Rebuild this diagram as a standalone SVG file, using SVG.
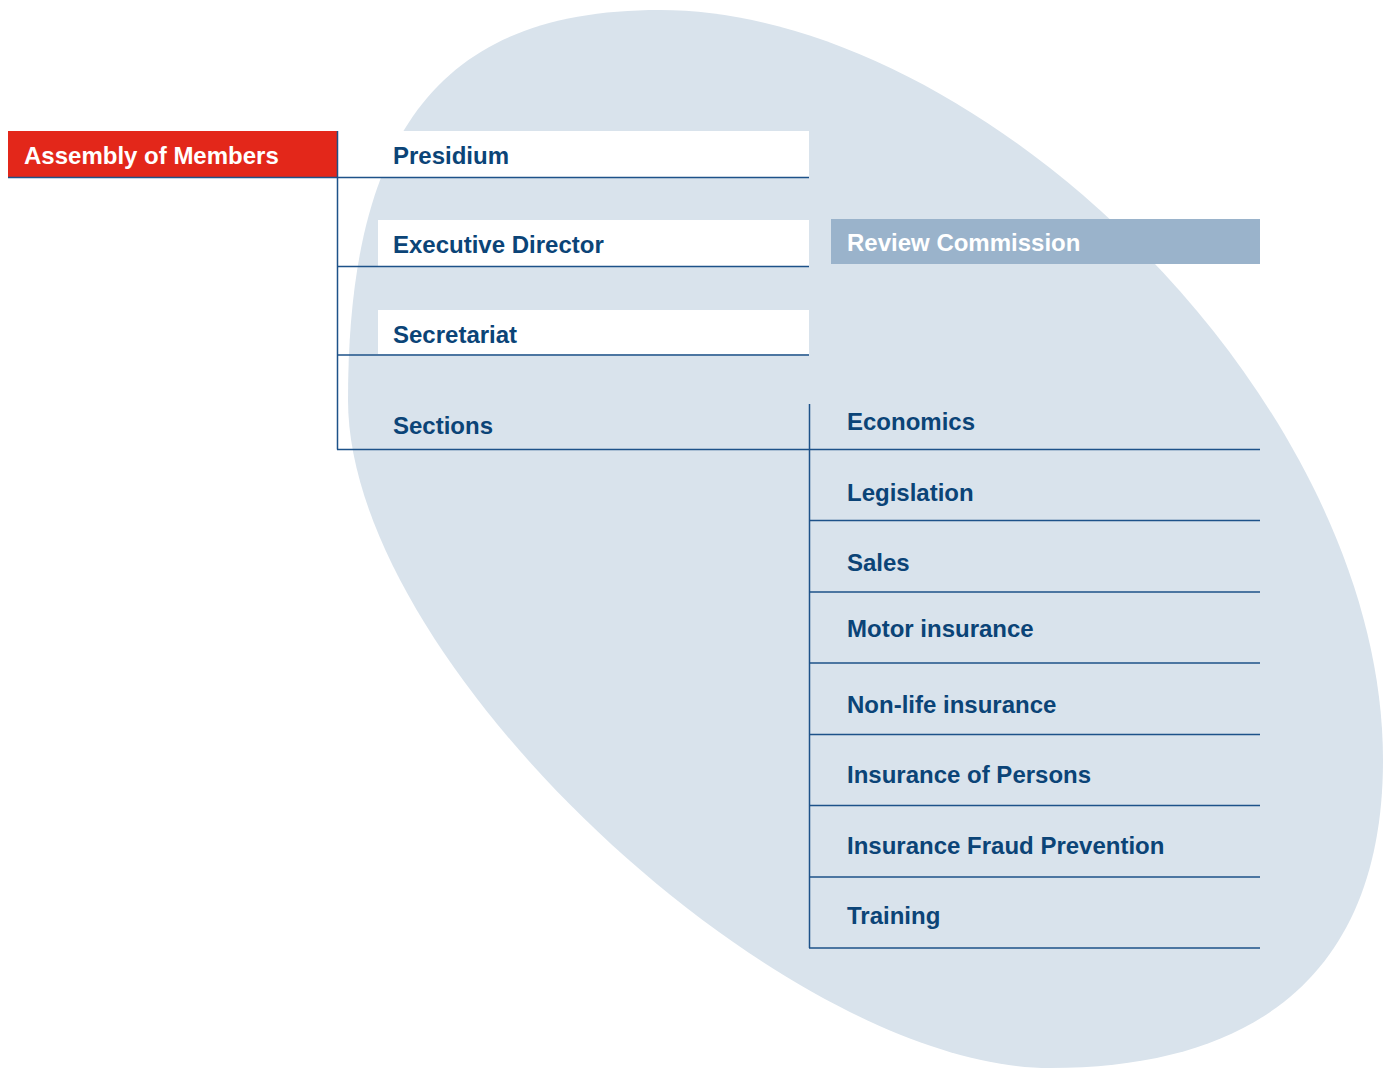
<svg xmlns="http://www.w3.org/2000/svg" width="1385" height="1068" viewBox="0 0 1385 1068">
<style>
.t{font-family:"Liberation Sans",Arial,sans-serif;font-weight:bold;font-size:24px;fill:#0b4477}
.w{fill:#ffffff}
.ln{stroke:#1d5289;stroke-width:1.5;fill:none}
.box{fill:#ffffff}
</style>
<rect width="1385" height="1068" fill="#ffffff"/>
<path id="blob" d="M660,10 C980,10 1383,400 1383,760 C1383,960 1270,1068 1050,1068 C785,1068 348,665 348,400 C348,120 450,10 660,10 Z" fill="#d9e3ec"/>
<g id="assembly">
<rect x="8" y="131" width="329" height="46" fill="#e3271a"/>
<text class="t w" x="24" y="164">Assembly of Members</text>
</g>
<g id="presidium">
<rect class="box" x="337" y="131" width="472" height="46"/>
<text class="t" x="393" y="164">Presidium</text>
</g>
<g id="executive-director">
<rect class="box" x="378" y="220" width="431" height="46"/>
<text class="t" x="393" y="253">Executive Director</text>
</g>
<g id="secretariat">
<rect class="box" x="378" y="310" width="431" height="44"/>
<text class="t" x="393" y="343">Secretariat</text>
</g>
<g id="sections">
<text class="t" x="393" y="434">Sections</text>
</g>
<g id="review-commission">
<rect x="831" y="219" width="429" height="45" fill="#9ab3cb"/>
<text class="t w" x="847" y="251">Review Commission</text>
</g>
<g id="economics"><text class="t" x="847" y="430">Economics</text></g>
<g id="legislation"><text class="t" x="847" y="501">Legislation</text></g>
<g id="sales"><text class="t" x="847" y="571">Sales</text></g>
<g id="motor-insurance"><text class="t" x="847" y="637">Motor insurance</text></g>
<g id="non-life-insurance"><text class="t" x="847" y="713">Non-life insurance</text></g>
<g id="insurance-of-persons"><text class="t" x="847" y="783">Insurance of Persons</text></g>
<g id="insurance-fraud-prevention"><text class="t" x="847" y="854">Insurance Fraud Prevention</text></g>
<g id="training"><text class="t" x="847" y="924">Training</text></g>
<g id="connectors">
<line class="ln" x1="8" y1="177.5" x2="809" y2="177.5"/>
<line class="ln" x1="337.5" y1="131" x2="337.5" y2="449.5"/>
<line class="ln" x1="337" y1="266.5" x2="809" y2="266.5"/>
<line class="ln" x1="337" y1="355" x2="809" y2="355"/>
<line class="ln" x1="337" y1="449.5" x2="1260" y2="449.5"/>
<line class="ln" x1="809.5" y1="404" x2="809.5" y2="948"/>
<line class="ln" x1="809" y1="520.5" x2="1260" y2="520.5"/>
<line class="ln" x1="809" y1="592" x2="1260" y2="592"/>
<line class="ln" x1="809" y1="663" x2="1260" y2="663"/>
<line class="ln" x1="809" y1="734.5" x2="1260" y2="734.5"/>
<line class="ln" x1="809" y1="805.5" x2="1260" y2="805.5"/>
<line class="ln" x1="809" y1="877" x2="1260" y2="877"/>
<line class="ln" x1="809" y1="948" x2="1260" y2="948"/>
</g>
</svg>
